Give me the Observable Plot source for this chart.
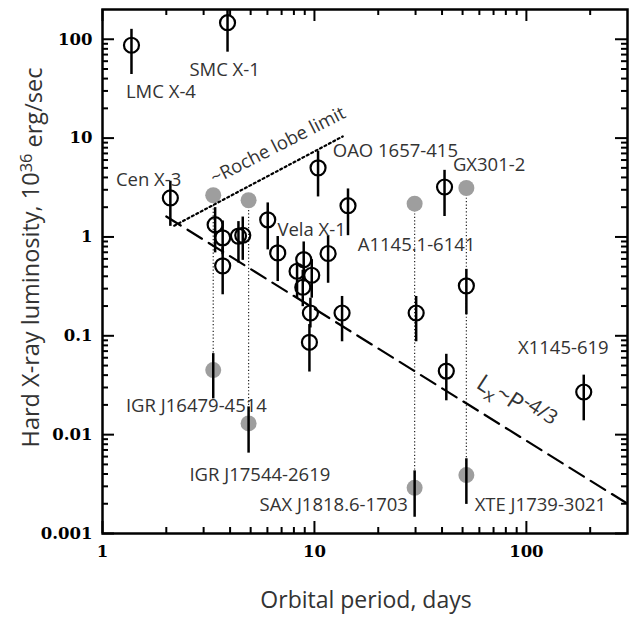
<!DOCTYPE html>
<html><head><meta charset="utf-8">
<script src="https://cdn.jsdelivr.net/npm/d3@7"></script>
<script src="https://cdn.jsdelivr.net/npm/@observablehq/plot@0.6"></script>
<style>html,body{margin:0;padding:0;background:#fff;}</style>
</head><body><div id="chart"></div>
<script>
// ---- persistent HMXBs (open circles) ----
const openP  = [1.37, 3.89, 2.09, 3.40, 3.69, 3.69, 4.38, 4.59, 6.02, 6.71, 8.90, 8.28, 9.71, 8.81, 9.57, 9.47, 10.4, 11.6, 14.4, 13.5, 30.2, 41.1, 41.9, 52.1, 186.5];
const openL  = [87, 147, 2.48, 1.33, 0.98, 0.51, 1.02, 1.04, 1.49, 0.69, 0.59, 0.45, 0.41, 0.31, 0.17, 0.086, 5.0, 0.68, 2.07, 0.17, 0.17, 3.2, 0.044, 0.32, 0.027];
const openLo = [44, 74, 1.28, 0.69, 0.66, 0.26, 0.545, 0.58, 0.74, 0.354, 0.35, 0.24, 0.24, 0.197, 0.12, 0.043, 2.54, 0.34, 1.03, 0.087, 0.087, 1.61, 0.022, 0.163, 0.0138];
const openHi = [126, 200, 3.66, 1.98, 1.45, 0.78, 1.43, 1.59, 2.21, 1.01, 0.89, 0.55, 0.59, 0.46, 0.24, 0.13, 7.36, 1.03, 3.06, 0.25, 0.25, 4.72, 0.065, 0.47, 0.04];

// ---- SFXTs (grey points): flare peak and quiescent level ----
const sfxtP     = [3.33, 4.89, 29.7, 52.1];
const sfxtHigh  = [2.64, 2.35, 2.17, 3.13];
const sfxtLow   = [0.045, 0.013, 0.0029, 0.0039];
const sfxtLowLo = [0.023, 0.0065, 0.00146, 0.00197];
const sfxtLowHi = [0.066, 0.0191, 0.0043, 0.0057];

// ---- guide lines ----
const rocheP = [2.18, 13.6];
const rocheL = [1.30, 10.4];
const lawP = [2.0, 300];
const lawL = [1.61, 0.002];

// ---- source labels (anchor in data space) ----
const labelNames  = ["LMC X-4", "SMC X-1", "Cen X-3", "OAO 1657-415", "GX301-2", "Vela X-1", "A1145.1-6141", "X1145-619", "IGR J16479-4514", "IGR J17544-2619", "SAX J1818.6-1703", "XTE J1739-3021"];
const labelP      = [1.29, 2.57, 1.157, 12.2, 45.0, 6.69, 16.0, 91.3, 1.29, 2.57, 27.6, 57.0];
const labelL      = [29.0, 48.9, 3.80, 7.36, 5.31, 1.18, 0.82, 0.0746, 0.0194, 0.00387, 0.00192, 0.00192];
const labelAnchor = ["start", "start", "start", "start", "start", "start", "start", "start", "start", "start", "end", "start"];

const rocheText = "~Roche lobe limit";
const rocheTextP = 3.28, rocheTextL = 3.84;
const lawText = "Lx~P-4/3";
const lawTextP = 59.8, lawTextL = 0.0352;

// ---- axes ----
const xMajor = [1, 10, 100];
const yMajor = [0.001, 0.01, 0.1, 1, 10, 100];
const xMinor = [2,3,4,5,6,7,8,9,20,30,40,50,60,70,80,90,200];
const yMinor = [0.002,0.003,0.004,0.005,0.006,0.007,0.008,0.009,0.02,0.03,0.04,0.05,0.06,0.07,0.08,0.09,0.2,0.3,0.4,0.5,0.6,0.7,0.8,0.9,2,3,4,5,6,7,8,9,20,30,40,50,60,70,80,90];
const xLabel = "Orbital period, days";
const yLabel = "Hard X-ray luminosity, 1036 erg/sec";

const W = 630, H = 623, mT = 9, mB = 90, mL = 102, mR = 3;
const fH = H - mT - mB, fW = W - mL - mR;
const sans = "'Open Sans', sans-serif";
const tickFont = "'DejaVu Serif', serif";

const openData = openP.map((p, i) => ({p, l: openL[i], lo: openLo[i], hi: openHi[i]}));
const sfxt = sfxtP.map((p, i) => ({p, hi: sfxtHigh[i], lo: sfxtLow[i], elo: sfxtLowLo[i], ehi: sfxtLowHi[i]}));
const labels = labelNames.map((n, i) => ({n, p: labelP[i], l: labelL[i], a: labelAnchor[i]}));
const roche = rocheP.map((p, i) => ({p, l: rocheL[i]}));
const law = lawP.map((p, i) => ({p, l: lawL[i]}));

const MAJ = 12, MIN = 6;
const LBL = 18.5;
const chart = Plot.plot({
  width: W, height: H, marginTop: mT, marginBottom: mB, marginLeft: mL, marginRight: mR,
  x: {type: "log", domain: [1, 300]},
  y: {type: "log", domain: [0.001, 200]},
  style: {background: "white", color: "black"},
  marks: [
    // inward ticks on all four sides
    Plot.tickX(xMajor, {x: d => d, insetTop: fH - MAJ, strokeWidth: 2}),
    Plot.tickX(xMajor, {x: d => d, insetBottom: fH - MAJ, strokeWidth: 2}),
    Plot.tickX(xMinor, {x: d => d, insetTop: fH - MIN, strokeWidth: 2}),
    Plot.tickX(xMinor, {x: d => d, insetBottom: fH - MIN, strokeWidth: 2}),
    Plot.tickY(yMajor, {y: d => d, insetRight: fW - MAJ, strokeWidth: 2}),
    Plot.tickY(yMajor, {y: d => d, insetLeft: fW - MAJ, strokeWidth: 2}),
    Plot.tickY(yMinor, {y: d => d, insetRight: fW - MIN, strokeWidth: 2}),
    Plot.tickY(yMinor, {y: d => d, insetLeft: fW - MIN, strokeWidth: 2}),
    Plot.axisX({ticks: xMajor, tickSize: 0, tickPadding: 12, tickFormat: d => String(d), label: null,
      fontFamily: tickFont, fontWeight: "bold", fontSize: 16.5}),
    Plot.axisY({ticks: yMajor, tickSize: 0, tickPadding: 10, tickFormat: d => String(d), label: null,
      fontFamily: tickFont, fontWeight: "bold", fontSize: 16.5}),
    // SFXT connecting dotted lines
    Plot.ruleX(sfxt, {x: "p", y1: "hi", y2: "lo", stroke: "#222", strokeWidth: 1.2, strokeDasharray: "1.2,2.2"}),
    Plot.dot(sfxt, {x: "p", y: "hi", r: 8, fill: "#9e9e9e", stroke: "none"}),
    Plot.dot(sfxt, {x: "p", y: "lo", r: 8, fill: "#9e9e9e", stroke: "none"}),
    Plot.ruleX(sfxt, {x: "p", y1: "elo", y2: "ehi", strokeWidth: 2.5}),
    // guide lines
    Plot.line(roche, {x: "p", y: "l", strokeWidth: 2.2, strokeDasharray: "2,3"}),
    Plot.line(law, {x: "p", y: "l", strokeWidth: 2.2, strokeDasharray: "17,8"}),
    // persistent sources
    Plot.ruleX(openData, {x: "p", y1: "lo", y2: "hi", strokeWidth: 2.5}),
    Plot.dot(openData, {x: "p", y: "l", r: 7.5, stroke: "black", strokeWidth: 2.2, fill: "none"}),
    // labels
    Plot.text(labels, {filter: d => d.a === "start", x: "p", y: "l", text: "n", textAnchor: "start", fontSize: LBL, fontFamily: sans, fill: "#333"}),
    Plot.text(labels, {filter: d => d.a === "end", x: "p", y: "l", text: "n", textAnchor: "end", fontSize: LBL, fontFamily: sans, fill: "#333"}),
    Plot.text([rocheText], {x: () => rocheTextP, y: () => rocheTextL, text: d => d, rotate: -27, textAnchor: "start", fontSize: LBL, fontFamily: sans, fill: "#333"}),
    Plot.text([lawText], {x: () => lawTextP, y: () => lawTextL, text: d => d, rotate: 33, textAnchor: "start", fontSize: 23.5, fontFamily: sans, fill: "#333"}),
    // axis titles
    Plot.text([xLabel], {frameAnchor: "bottom", dy: 67, dx: 1, text: d => d, textAnchor: "middle", lineAnchor: "middle", fontSize: 23, fontFamily: sans, fill: "#333"}),
    Plot.text([yLabel], {frameAnchor: "left", dx: -71, dy: -14, rotate: -90, text: d => d, textAnchor: "middle", lineAnchor: "middle", fontSize: 23.5, fontFamily: sans, fill: "#333"}),
    Plot.frame({strokeWidth: 2.5})
  ]
});
document.getElementById("chart").append(chart);

// typographic sub/superscripts
d3.select(chart).selectAll("text").each(function() {
  const t = d3.select(this);
  const s = this.textContent;
  if (s === yLabel) {
    t.text(null);
    t.append("tspan").text("Hard X-ray luminosity, 10");
    t.append("tspan").attr("dy", "-0.45em").attr("font-size", "70%").text("36");
    t.append("tspan").attr("dy", "0.45em").text(" erg/sec");
  } else if (s === lawText) {
    t.text(null);
    t.append("tspan").text("L");
    t.append("tspan").attr("dy", "0.3em").attr("font-size", "75%").text("x");
    t.append("tspan").attr("dy", "-0.3em").text("~P");
    t.append("tspan").attr("dy", "-0.4em").attr("font-size", "85%").text("-4/3");
  }
});
</script>
</body></html>
